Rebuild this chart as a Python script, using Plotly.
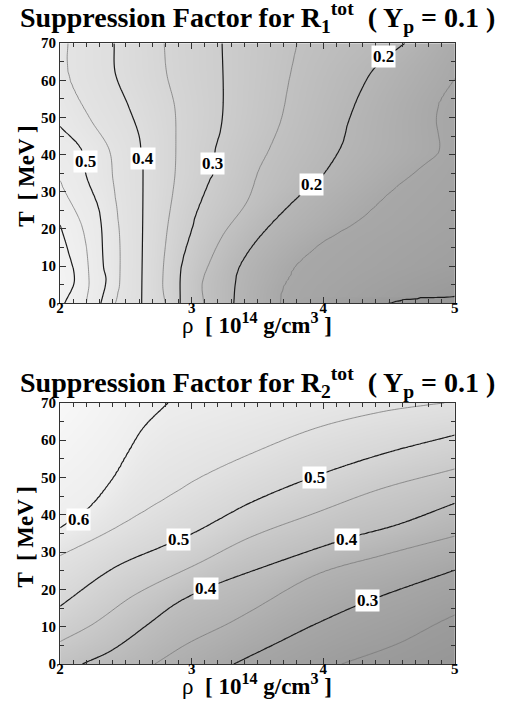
import numpy as np
import plotly.graph_objects as go

# ================= Panel 1 : R1 (contour traces) =================
# each level: T [MeV] (ascending) and rho [1e14 g/cm3]
r1_060_T = [0.0, 6.2, 14.2, 21.1]
r1_060_rho = [2.035, 2.11, 2.06, 2.0]
r1_055_T = [0.0, 6.2, 20.3, 31.2, 33.0]
r1_055_rho = [2.20, 2.22, 2.17, 2.02, 2.0]
r1_050_T = [0.0, 6.2, 9.7, 24.6, 34.2, 41.6, 47.6]
r1_050_rho = [2.31, 2.35, 2.33, 2.30, 2.20, 2.16, 2.0]
r1_045_T = [0.0, 5.3, 18.5, 33.7, 41.6, 49.5, 59.1, 65.3, 70.0]
r1_045_rho = [2.42, 2.45, 2.45, 2.40, 2.37, 2.23, 2.085, 2.05, 2.06]
r1_040_T = [0.0, 36.0, 38.1, 45.1, 53.0, 61.8, 70.0]
r1_040_rho = [2.62, 2.63, 2.62, 2.60, 2.52, 2.42, 2.41]
r1_035_T = [0.0, 5.3, 18.5, 33.7, 44.2, 53.0, 61.8, 70.0]
r1_035_rho = [2.80, 2.78, 2.81, 2.87, 2.88, 2.87, 2.81, 2.79]
r1_030_T = [0.0, 9.7, 21.1, 23.8, 33.4, 34.6, 41.6, 46.8, 54.7, 70.0]
r1_030_rho = [2.91, 2.92, 3.01, 3.03, 3.14, 3.16, 3.18, 3.22, 3.24, 3.23]
r1_025_T = [0.0, 5.3, 9.7, 18.5, 27.3, 36.0, 41.6, 49.5, 60.0, 70.0]
r1_025_rho = [3.09, 3.08, 3.12, 3.24, 3.42, 3.51, 3.59, 3.68, 3.74, 3.80]
r1_020_T = [0.0, 5.3, 9.7, 15.9, 22.0, 29.0, 31.7, 35.6, 42.6, 48.8, 57.5, 63.7, 70.0]
r1_020_rho = [3.32, 3.33, 3.36, 3.47, 3.62, 3.82, 3.92, 4.02, 4.14, 4.19, 4.29, 4.40, 4.62]
r1_015_T = [0.0, 4.0, 7.1, 10.2, 16.3, 22.4, 30.3, 37.4, 40.9, 48.8, 54.0, 60.6]
r1_015_rho = [3.67, 3.69, 3.74, 3.79, 3.99, 4.27, 4.52, 4.77, 4.88, 4.86, 4.88, 5.0]
r1_010_T = [0.0, 1.4, 1.8]
r1_010_rho = [4.49, 4.69, 5.0]
# values on the left (rho=2) and right (rho=5) edges
r1_left_T = [0.0, 6.0, 14.0, 21.1, 33.0, 47.6, 60.0, 70.0]
r1_left_z = [0.61, 0.64, 0.62, 0.60, 0.55, 0.50, 0.47, 0.465]
r1_right_T = [0.0, 1.8, 10.0, 20.0, 30.0, 40.0, 50.0, 60.6, 70.0]
r1_right_z = [0.092, 0.10, 0.12, 0.13, 0.137, 0.142, 0.145, 0.15, 0.16]

# ================= Panel 2 : R2 =================
# each level: rho (ascending) and T [MeV]
r2_060_rho = [2.0, 2.23, 2.41, 2.51, 2.63, 2.82]
r2_060_T = [36.5, 42.2, 50.1, 56.2, 63.2, 70.0]
r2_055_rho = [2.0, 2.40, 2.82, 3.07, 3.44, 3.94, 4.44, 4.84, 4.92]
r2_055_T = [29.1, 36.1, 44.8, 50.1, 56.2, 63.2, 67.6, 69.7, 70.0]
r2_050_rho = [2.0, 2.40, 2.79, 3.02, 3.44, 3.92, 4.44, 5.0]
r2_050_T = [15.5, 25.6, 31.7, 35.2, 43.1, 50.1, 56.2, 61.4]
r2_045_rho = [2.0, 2.25, 2.57, 3.07, 3.44, 3.94, 4.44, 5.0]
r2_045_T = [6.0, 10.7, 18.6, 27.3, 33.9, 40.5, 47.0, 52.3]
r2_040_rho = [2.17, 2.40, 2.67, 2.87, 3.11, 3.44, 4.17, 4.57, 5.0]
r2_040_T = [0.0, 3.8, 10.7, 16.0, 20.3, 24.7, 33.5, 37.4, 43.1]
r2_035_rho = [2.72, 2.97, 3.27, 3.44, 3.94, 4.44, 5.0]
r2_035_T = [0.0, 5.5, 10.7, 14.0, 23.9, 29.1, 34.3]
r2_030_rho = [3.32, 3.64, 3.94, 4.34, 5.0]
r2_030_T = [0.0, 5.5, 10.7, 16.9, 25.2]
r2_025_rho = [4.14, 4.57, 4.87, 5.0]
r2_025_T = [0.0, 5.5, 11.0, 13.2]
# values on bottom (T=0) and top (T=70) edges
r2_bottom_rho = [2.0, 2.17, 2.72, 3.32, 4.14, 5.0]
r2_bottom_z = [0.415, 0.40, 0.35, 0.30, 0.25, 0.22]
r2_top_rho = [2.0, 2.82, 4.92, 5.0]
r2_top_z = [0.645, 0.60, 0.55, 0.549]

# contour labels (value, rho, T)
r1_lab_val = ["0.5", "0.4", "0.3", "0.2", "0.2"]
r1_lab_rho = [2.19, 2.63, 3.16, 4.46, 3.91]
r1_lab_T = [38.2, 39.0, 37.6, 66.3, 32.0]
r2_lab_val = ["0.6", "0.5", "0.4", "0.5", "0.4", "0.3"]
r2_lab_rho = [2.14, 2.90, 3.11, 3.93, 4.18, 4.34]
r2_lab_T = [38.7, 33.4, 20.3, 50.1, 33.5, 16.9]

r1_lines = [(0.60, r1_060_T, r1_060_rho), (0.55, r1_055_T, r1_055_rho),
            (0.50, r1_050_T, r1_050_rho), (0.45, r1_045_T, r1_045_rho),
            (0.40, r1_040_T, r1_040_rho), (0.35, r1_035_T, r1_035_rho),
            (0.30, r1_030_T, r1_030_rho), (0.25, r1_025_T, r1_025_rho),
            (0.20, r1_020_T, r1_020_rho), (0.15, r1_015_T, r1_015_rho),
            (0.10, r1_010_T, r1_010_rho)]
r2_lines = [(0.60, r2_060_rho, r2_060_T), (0.55, r2_055_rho, r2_055_T),
            (0.50, r2_050_rho, r2_050_T), (0.45, r2_045_rho, r2_045_T),
            (0.40, r2_040_rho, r2_040_T), (0.35, r2_035_rho, r2_035_T),
            (0.30, r2_030_rho, r2_030_T), (0.25, r2_025_rho, r2_025_T)]


def smooth_interp(q, x, y):
    """C1 cubic Hermite (Catmull-Rom type) through the read points."""
    x = np.asarray(x, float)
    y = np.asarray(y, float)
    n = len(x)
    if n < 3:
        return float(np.interp(q, x, y))
    m = np.empty(n)
    m[1:-1] = (y[2:] - y[:-2]) / (x[2:] - x[:-2])
    m[0] = (y[1] - y[0]) / (x[1] - x[0])
    m[-1] = (y[-1] - y[-2]) / (x[-1] - x[-2])
    k = int(np.clip(np.searchsorted(x, q) - 1, 0, n - 2))
    h = x[k + 1] - x[k]
    t = (q - x[k]) / h
    h00 = 2 * t ** 3 - 3 * t ** 2 + 1
    h10 = t ** 3 - 2 * t ** 2 + t
    h01 = -2 * t ** 3 + 3 * t ** 2
    h11 = t ** 3 - t ** 2
    return h00 * y[k] + h10 * h * m[k] + h01 * y[k + 1] + h11 * h * m[k + 1]


def build_grid(rows, lines, edge_lo, edge_hi, xs, lo, hi):
    Z = np.empty((len(rows), len(xs)))
    for i, r in enumerate(rows):
        px = [lo]
        pz = [np.interp(r, edge_lo[0], edge_lo[1])]
        for lvl, rr, xx in lines:
            if rr[0] <= r <= rr[-1]:
                x = smooth_interp(r, rr, xx)
                if lo + 1e-6 < x < hi - 1e-6:
                    px.append(x)
                    pz.append(lvl)
        px.append(hi)
        pz.append(np.interp(r, edge_hi[0], edge_hi[1]))
        order = np.argsort(px)
        Z[i] = np.interp(xs, np.array(px)[order], np.array(pz)[order])
    return Z


rho_g = np.linspace(2.0, 5.0, 151)
T_g = np.linspace(0.0, 70.0, 141)
Z1 = build_grid(T_g, r1_lines, (r1_left_T, r1_left_z), (r1_right_T, r1_right_z),
                rho_g, 2.0, 5.0)
Z2 = build_grid(rho_g, r2_lines, (r2_bottom_rho, r2_bottom_z), (r2_top_rho, r2_top_z),
                T_g, 0.0, 70.0).T


def gray_scale(zs, gs, zmin, zmax):
    return [[(z - zmin) / (zmax - zmin), "rgb(%d,%d,%d)" % (g, g, g)] for z, g in zip(zs, gs)]


cs1 = gray_scale([0.09, 0.15, 0.2, 0.3, 0.4, 0.5, 0.645], [150, 168, 182, 205, 222, 233, 243], 0.09, 0.645)
cs2 = gray_scale([0.20, 0.30, 0.40, 0.50, 0.645], [146, 166, 190, 214, 248], 0.20, 0.645)

W, H = 509, 715
fig = go.Figure()
for Z, cs, zr, ax in [(Z1, cs1, (0.09, 0.645), ""), (Z2, cs2, (0.20, 0.645), "2")]:
    xa, ya = "x" + ax, "y" + ax
    fig.add_trace(go.Heatmap(x=rho_g, y=T_g, z=Z, colorscale=cs, zmin=zr[0], zmax=zr[1],
                             zsmooth="best", showscale=False, hoverinfo="skip",
                             xaxis=xa, yaxis=ya))
    fig.add_trace(go.Contour(x=rho_g, y=T_g, z=Z, showscale=False, hoverinfo="skip",
                             contours=dict(coloring="none", start=0.15, end=0.55, size=0.1),
                             line=dict(color="#7a7a7a", width=0.8, smoothing=1.0),
                             xaxis=xa, yaxis=ya))
    fig.add_trace(go.Contour(x=rho_g, y=T_g, z=Z, showscale=False, hoverinfo="skip",
                             contours=dict(coloring="none", start=0.1, end=0.6, size=0.1),
                             line=dict(color="#1a1a1a", width=1.2, smoothing=1.0),
                             xaxis=xa, yaxis=ya))

FONT = "Liberation Serif"
axis_common = dict(showline=True, linecolor="#333333", linewidth=1.2, mirror="allticks",
                   ticks="inside", ticklen=6, tickcolor="#333333", showgrid=False,
                   zeroline=False, tickfont=dict(family=FONT, size=15, color="black", weight="bold"))
x_dom = [57 / W, 458 / W]
xminor = dict(dtick=0.1, ticks="inside", ticklen=4, tickcolor="#333333")
yminor = dict(dtick=5, ticks="inside", ticklen=4, tickcolor="#333333")
fig.update_layout(
    width=W, height=H, margin=dict(l=0, r=0, t=0, b=0),
    paper_bgcolor="white", plot_bgcolor="white", showlegend=False,
    xaxis=dict(domain=x_dom, range=[2, 5], tickvals=[2, 3, 4, 5], anchor="y",
               ticklabelstandoff=-9, minor=xminor, **axis_common),
    yaxis=dict(domain=[1 - 302 / H, 1 - 36 / H], range=[0, 70], dtick=10, anchor="x",
               minor=yminor, **axis_common),
    xaxis2=dict(domain=x_dom, range=[2, 5], tickvals=[2, 3, 4, 5], anchor="y2",
                ticklabelstandoff=-9, minor=xminor, **axis_common),
    yaxis2=dict(domain=[1 - 671 / H, 1 - 404 / H], range=[0, 70], dtick=10, anchor="x2",
                minor=yminor, **axis_common),
)

ann = []
for vals, rr, tt, ax in [(r1_lab_val, r1_lab_rho, r1_lab_T, ""), (r2_lab_val, r2_lab_rho, r2_lab_T, "2")]:
    for v, r, t in zip(vals, rr, tt):
        ann.append(dict(x=r, y=t, xref="x" + ax, yref="y" + ax, text="<b>%s</b>" % v,
                        showarrow=False, bgcolor="white", borderpad=1,
                        font=dict(family=FONT, size=17, color="black")))

titles = ["<b>Suppression Factor for R<sub>1</sub><sup>tot</sup>  ( Y<sub>p</sub> = 0.1 )</b>",
          "<b>Suppression Factor for R<sub>2</sub><sup>tot</sup>  ( Y<sub>p</sub> = 0.1 )</b>"]
for k, ty in enumerate([10, 383]):
    off = 369 * k
    ann.append(dict(x=257.5 / W, y=1 - ty / H, xref="paper", yref="paper",
                    text=titles[k], showarrow=False, xanchor="center", yanchor="middle",
                    font=dict(family=FONT, size=28, color="black")))
    ann.append(dict(x=257.5 / W, y=1 - (323 + off) / H, xref="paper", yref="paper",
                    text="ρ  <b>[ 10<sup>14</sup> g/cm<sup>3</sup> ]</b>", showarrow=False,
                    xanchor="center", yanchor="middle",
                    font=dict(family=FONT, size=23, color="black")))
    ann.append(dict(x=22 / W, y=1 - (172 + off) / H, xref="paper", yref="paper",
                    text="<b>T  [ MeV ]</b>", showarrow=False, textangle=-90,
                    xanchor="center", yanchor="middle",
                    font=dict(family=FONT, size=23, color="black")))
fig.update_layout(annotations=ann)

fig.write_html("out.html", config={"displayModeBar": False},
               post_script="document.body.style.margin='0';document.body.style.overflow='hidden';")
